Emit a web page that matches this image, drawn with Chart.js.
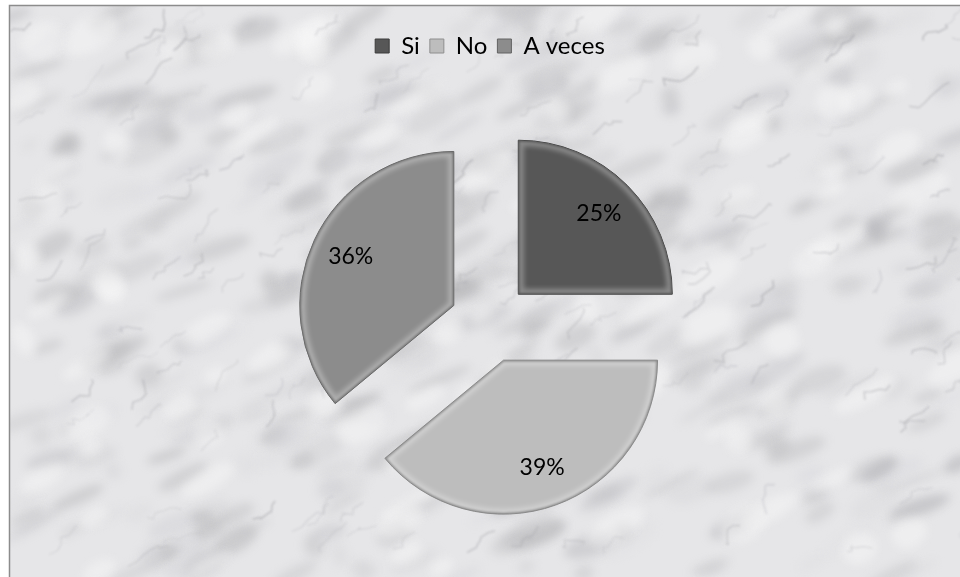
<!DOCTYPE html>
<html>
<head>
<meta charset="utf-8">
<script src="https://cdn.jsdelivr.net/npm/chart.js@4/dist/chart.umd.min.js"></script>
<style>
  html, body { margin: 0; padding: 0; background: #ffffff; }
  #wrap { width: 960px; height: 577px; }
</style>
</head>
<body>
<div id="wrap"><canvas id="pieChart" width="960" height="577"></canvas></div>
<script>
// survey answers, percent
let categories = ["Si", "No", "A veces"]
let percentages = [25, 39, 36]
let sliceColors = ["#575757", "#bdbdbd", "#8c8c8c"]
let edgeColors = ["#3c3c3c", "#8e8e8e", "#626262"]

const EXPLODE = 40          // px each slice is pulled out along its bisector
const LABEL_FONT = "23px Lato, 'Liberation Sans', sans-serif"

// cheap repeatable generator for the stone texture
let seed = 11
function rnd() {
    seed = (seed * 16807) % 2147483647
    return (seed - 1) / 2147483646
}

let marble = {
    id: "marble",
    beforeDraw(chart) {
        let ctx = chart.ctx
        ctx.save()
        ctx.fillStyle = "#ffffff"
        ctx.fillRect(0, 0, 960, 577)
        ctx.fillStyle = "#e6e6e8"
        ctx.fillRect(9, 5, 951, 572)
        ctx.beginPath()
        ctx.rect(9, 5, 951, 572)
        ctx.clip()
        seed = 11
        // cloudy grey patches
        ctx.filter = "blur(5px)"
        for (let i = 0; i < 480; i++) {
            let x = 9 + rnd() * 951, y = 5 + rnd() * 572
            let g = 170 + Math.floor(rnd() * 55)
            ctx.fillStyle = "rgba(" + g + "," + g + "," + (g + 3) + ",0.4)"
            ctx.beginPath()
            ctx.ellipse(x, y, 8 + rnd() * 26, 3 + rnd() * 9, -0.55 + rnd() * 0.3, 0, Math.PI * 2)
            ctx.fill()
        }
        // a few brighter spots
        for (let i = 0; i < 90; i++) {
            let x = 9 + rnd() * 951, y = 5 + rnd() * 572
            ctx.fillStyle = "rgba(248,248,248,0.45)"
            ctx.beginPath()
            ctx.ellipse(x, y, 10 + rnd() * 25, 6 + rnd() * 12, -0.5, 0, Math.PI * 2)
            ctx.fill()
        }
        // thin jagged veins
        ctx.filter = "blur(0.8px)"
        for (let i = 0; i < 160; i++) {
            let x = 9 + rnd() * 951, y = 5 + rnd() * 572
            let g = 125 + Math.floor(rnd() * 60)
            ctx.strokeStyle = "rgba(" + g + "," + g + "," + (g + 6) + ",0.35)"
            ctx.lineWidth = 0.5 + rnd() * 1.2
            ctx.beginPath()
            ctx.moveTo(x, y)
            for (let k = 0; k < 6; k++) {
                x += -2 + rnd() * 12
                y += -8 + rnd() * 10
                ctx.lineTo(x, y)
            }
            ctx.stroke()
        }
        ctx.filter = "none"
        ctx.restore()
        ctx.save()
        ctx.strokeStyle = "#8c8c8c"
        ctx.lineWidth = 1.5
        ctx.beginPath()
        ctx.moveTo(9.5, 577)
        ctx.lineTo(9.5, 5.5)
        ctx.lineTo(960, 5.5)
        ctx.stroke()
        ctx.restore()
    }
}

// draws the arcs pulled apart, with a soft bevel and the percent labels
let explodedPie = {
    id: "explodedPie",
    beforeDatasetsDraw(chart) {
        let ctx = chart.ctx
        let meta = chart.getDatasetMeta(0)
        meta.data.forEach((arc, i) => {
            let p = arc.getProps(["x", "y", "startAngle", "endAngle", "outerRadius"], true)
            let half = (p.startAngle + p.endAngle) / 2
            let dx = Math.cos(half) * EXPLODE
            let dy = Math.sin(half) * EXPLODE

            ctx.save()
            ctx.translate(dx, dy)
            arc.draw(ctx)

            ctx.beginPath()
            ctx.moveTo(p.x, p.y)
            ctx.arc(p.x, p.y, p.outerRadius, p.startAngle, p.endAngle)
            ctx.closePath()
            ctx.clip()
            ctx.filter = "blur(2.5px)"
            ctx.strokeStyle = "rgba(255,255,255,0.3)"
            ctx.lineWidth = 11
            ctx.stroke()
            ctx.filter = "blur(1px)"
            ctx.strokeStyle = "rgba(0,0,0,0.35)"
            ctx.lineWidth = 2.5
            ctx.stroke()
            ctx.filter = "none"
            ctx.restore()

            let d = EXPLODE + p.outerRadius * 0.74
            ctx.save()
            ctx.fillStyle = "#000000"
            ctx.font = LABEL_FONT
            ctx.textAlign = "center"
            ctx.textBaseline = "middle"
            ctx.fillText(percentages[i] + "%", p.x + Math.cos(half) * d, p.y + Math.sin(half) * d)
            ctx.restore()
        })
        return false
    }
}

let canvasElement = document.getElementById("pieChart")
let config = {
    type: "pie",
    data: {
        labels: categories,
        datasets: [{
            label: "respuestas",
            data: percentages,
            backgroundColor: sliceColors,
            borderColor: edgeColors,
            borderWidth: 1,
            radius: 154,
        }],
    },
    options: {
        responsive: false,
        animation: false,
        layout: { padding: { top: 24, left: 30, right: 10, bottom: 0 } },
        plugins: {
            legend: {
                position: "top",
                labels: {
                    color: "#000000",
                    boxWidth: 14,
                    boxHeight: 14,
                    padding: 10,
                    font: { family: "Lato, 'Liberation Sans', sans-serif", size: 24, lineHeight: 1.87 },
                },
            },
            tooltip: { enabled: false },
        },
    },
    plugins: [marble, explodedPie],
}
let pieChart = new Chart(canvasElement, config)
</script>
</body>
</html>
